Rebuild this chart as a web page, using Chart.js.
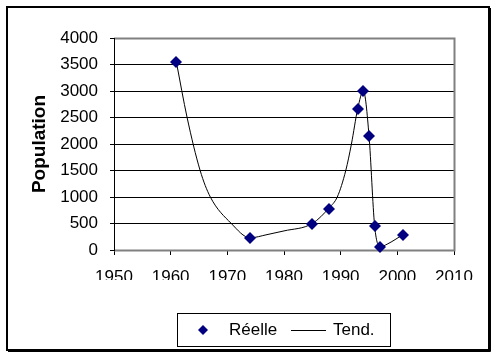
<!DOCTYPE html>
<html><head><meta charset="utf-8">
<script src="https://cdn.jsdelivr.net/npm/chart.js@4"></script>
<style>html,body{margin:0;padding:0;background:#fff}#wrap{width:501px;height:360px;position:relative}</style>
</head><body><div id="wrap"><canvas id="c" width="501" height="360"></canvas></div>
<script>
// Observed data (Réelle)
const years = [1961, 1974, 1985, 1988, 1993, 1994, 1995, 1996, 1997, 2001];
const population = [3550, 230, 500, 780, 2660, 3000, 2160, 450, 60, 290];
// Trend line (Tend.)
const trendYears = [1961, 1962.9, 1965.2, 1967, 1970.7, 1974, 1977, 1980, 1985, 1988, 1989.4, 1990.9, 1991.9, 1993, 1994, 1995, 1996, 1997, 1998.2, 2001];
const trendValues = [3550, 2500, 1500, 1000, 500, 230, 290, 360, 500, 800, 1000, 1500, 2000, 2660, 3000, 2160, 450, 60, 110, 290];
const xTicks = [1950, 1960, 1970, 1980, 1990, 2000, 2010];
const yTicks = [0, 500, 1000, 1500, 2000, 2500, 3000, 3500, 4000];
const seriesNames = ['Réelle', 'Tend.'];
const yTitle = 'Population';

const FONT = '"Liberation Sans", Arial, sans-serif';
const NAVY = '#000080';

function diamond(ctx, x, y, r) {
  ctx.beginPath();
  ctx.moveTo(x, y - r); ctx.lineTo(x + r, y); ctx.lineTo(x, y + r); ctx.lineTo(x - r, y);
  ctx.closePath(); ctx.fill();
}

const deco = {
  id: 'deco',
  beforeDraw(chart) {
    const ctx = chart.ctx;
    ctx.save();
    ctx.fillStyle = '#fff';
    ctx.fillRect(0, 0, chart.width, chart.height);
    ctx.strokeStyle = '#000';
    ctx.lineWidth = 2;
    ctx.strokeRect(7, 7, 482, 343);
    ctx.lineWidth = 1;
    ctx.beginPath();
    ctx.moveTo(490.5, 8); ctx.lineTo(490.5, 351.5); ctx.lineTo(8, 351.5);
    ctx.stroke();
    ctx.restore();
  },
  afterDatasetsDraw(chart) {
    const ctx = chart.ctx, a = chart.chartArea;
    ctx.save();
    ctx.strokeStyle = '#808080';
    ctx.lineWidth = 2;
    ctx.beginPath();
    ctx.moveTo(a.left, a.top + 0.5); ctx.lineTo(a.right + 0.5, a.top + 0.5);
    ctx.lineTo(a.right + 0.5, a.bottom + 0.5); ctx.lineTo(a.left, a.bottom + 0.5);
    ctx.stroke();
    ctx.strokeStyle = '#000';
    ctx.lineWidth = 1;
    ctx.beginPath();
    ctx.moveTo(a.left + 0.5, a.top); ctx.lineTo(a.left + 0.5, a.bottom + 1);
    ctx.stroke();
    ctx.restore();
    const meta = chart.getDatasetMeta(0);
    ctx.save();
    ctx.fillStyle = NAVY;
    meta.data.forEach(p => diamond(ctx, Math.round(p.x), Math.round(p.y), 6));
    ctx.restore();
  },
  afterDraw(chart) {
    const ctx = chart.ctx;
    ctx.save();
    ctx.strokeStyle = '#000';
    ctx.lineWidth = 1;
    ctx.strokeRect(177.5, 313.5, 213, 33);
    ctx.fillStyle = NAVY;
    diamond(ctx, 203, 330, 5);
    ctx.fillStyle = '#000';
    ctx.font = '17px ' + FONT;
    ctx.textBaseline = 'middle';
    ctx.textAlign = 'left';
    ctx.fillText(seriesNames[0], 229, 330);
    ctx.beginPath();
    ctx.moveTo(291, 330.5); ctx.lineTo(326, 330.5);
    ctx.stroke();
    ctx.fillText(seriesNames[1], 333, 330);
    ctx.restore();
  }
};

new Chart(document.getElementById('c'), {
  type: 'scatter',
  data: {
    datasets: [
      {
        label: seriesNames[0],
        data: years.map((x, i) => ({x, y: population[i]})),
        showLine: false,
        pointStyle: 'rectRot',
        pointRadius: 0,
        backgroundColor: NAVY,
        borderColor: NAVY,
        order: 0
      },
      {
        label: seriesNames[1],
        data: trendYears.map((x, i) => ({x, y: trendValues[i]})),
        showLine: true,
        pointRadius: 0,
        borderColor: '#000',
        borderWidth: 1,
        cubicInterpolationMode: 'monotone',
        order: 1
      }
    ]
  },
  options: {
    responsive: false,
    animation: false,
    layout: { padding: { left: 20, top: 38, right: 47, bottom: 80 } },
    plugins: { legend: { display: false }, tooltip: { enabled: false } },
    scales: {
      x: {
        type: 'linear', min: 1950, max: 2010,
        afterBuildTicks: s => { s.ticks = xTicks.map(v => ({value: v})); },
        afterFit: s => { s.height = 30; },
        grid: { drawOnChartArea: false, color: '#000', tickColor: '#000', tickLength: 5 },
        border: { display: false },
        ticks: { color: '#000', font: { family: FONT, size: 17 }, padding: 12, maxRotation: 0, callback: v => String(v) }
      },
      y: {
        min: 0, max: 4000,
        afterBuildTicks: s => { s.ticks = yTicks.map(v => ({value: v})); },
        afterFit: s => { s.width = 94; },
        grid: { color: '#000', tickColor: '#000', tickLength: 4, lineWidth: 1 },
        border: { display: false },
        ticks: { color: '#000', font: { family: FONT, size: 17 }, padding: 12, callback: v => String(v) },
        title: { display: true, text: yTitle, color: '#000', font: { family: FONT, size: 19, weight: 'bold' }, padding: { top: 8, bottom: 0 } }
      }
    }
  },
  plugins: [deco]
});
</script></body></html>
